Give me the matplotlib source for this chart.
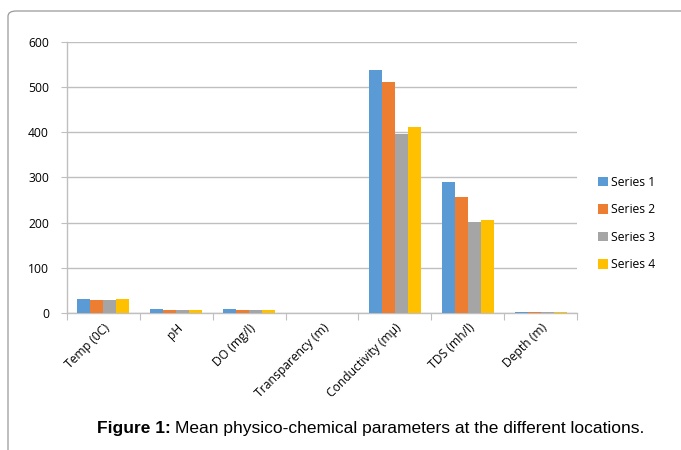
import numpy as np
import matplotlib.pyplot as plt
from matplotlib.patches import FancyBboxPatch

categories = ['Temp (0C)', 'pH', 'DO (mg/l)', 'Transparency (m)',
              'Conductivity (mμ)', 'TDS (mh/l)', 'Depth (m)']
series_names = ['Series 1', 'Series 2', 'Series 3', 'Series 4']
series1 = [31, 8, 8, 1, 538, 290, 1.5]
series2 = [29, 7, 6, 1, 511, 257, 1.2]
series3 = [29, 7, 7, 1, 396, 201, 1.2]
series4 = [30, 7, 6, 1, 412, 206, 1.2]
colors = ['#5B9BD5', '#ED7D31', '#A5A5A5', '#FFC000']

fig = plt.figure(figsize=(6.81, 4.5), dpi=100)

# outer frame (open to the right and bottom like the page crop)
frame = FancyBboxPatch((8 / 681, -0.2), 1.2, (450 - 11) / 450 + 0.2,
                       boxstyle='round,pad=0,rounding_size=0.012',
                       transform=fig.transFigure, fill=False,
                       edgecolor='#9a9a9a', linewidth=0.9)
fig.patches.append(frame)

ax = fig.add_axes([67 / 681, (450 - 313) / 450, (577 - 67) / 681, (313 - 42) / 450])

x = np.arange(len(categories))
w = 0.178
for i, (vals, name) in enumerate(zip([series1, series2, series3, series4], series_names)):
    ax.bar(x + (i - 1.5) * w, vals, w, color=colors[i], label=name, zorder=3)

ax.set_xlim(-0.5, len(categories) - 0.5)
ax.set_ylim(0, 600)
ax.set_yticks(range(0, 601, 100))
ax.yaxis.grid(True, color='#BFBFBF', linewidth=1.0, zorder=0)
ax.set_axisbelow(True)

for s in ['top', 'right']:
    ax.spines[s].set_visible(False)
for s in ['left', 'bottom']:
    ax.spines[s].set_color('#BFBFBF')
    ax.spines[s].set_linewidth(1.0)

ax.set_xticks(np.arange(-0.5, len(categories)), minor=False)
ax.set_xticklabels([])
ax.set_xticks(x, minor=True)
ax.set_xticklabels(categories, minor=True, rotation=45, ha='right',
                   rotation_mode='anchor', fontsize=8.7, family='Open Sans')
ax.tick_params(axis='x', which='major', length=5, color='#BFBFBF')
ax.tick_params(axis='x', which='minor', length=0, pad=6)
ax.tick_params(axis='y', length=4, color='#BFBFBF', labelsize=8.7, pad=9)
for lab in ax.get_yticklabels():
    lab.set_family('Open Sans')

ax.legend(loc='center left', bbox_to_anchor=(1.02, 0.33), frameon=False,
          prop={'family': 'Open Sans', 'size': 8.7}, handlelength=0.8,
          handleheight=0.8, handletextpad=0.3, labelspacing=1.2)

# caption: bold "Figure 1:" followed by regular text
cap_y = (450 - 428) / 450
t1 = fig.text(97 / 681, cap_y, 'Figure 1:', ha='left', va='center',
              fontsize=12.5, fontweight='bold', family='Liberation Sans')
fig.canvas.draw()
bb = t1.get_window_extent()
fig.text(bb.x1 / fig.bbox.width + 4 / 681, cap_y,
         'Mean physico-chemical parameters at the different locations.',
         ha='left', va='center', fontsize=12.5, family='Liberation Sans')

fig.savefig('out.png', dpi=100)
